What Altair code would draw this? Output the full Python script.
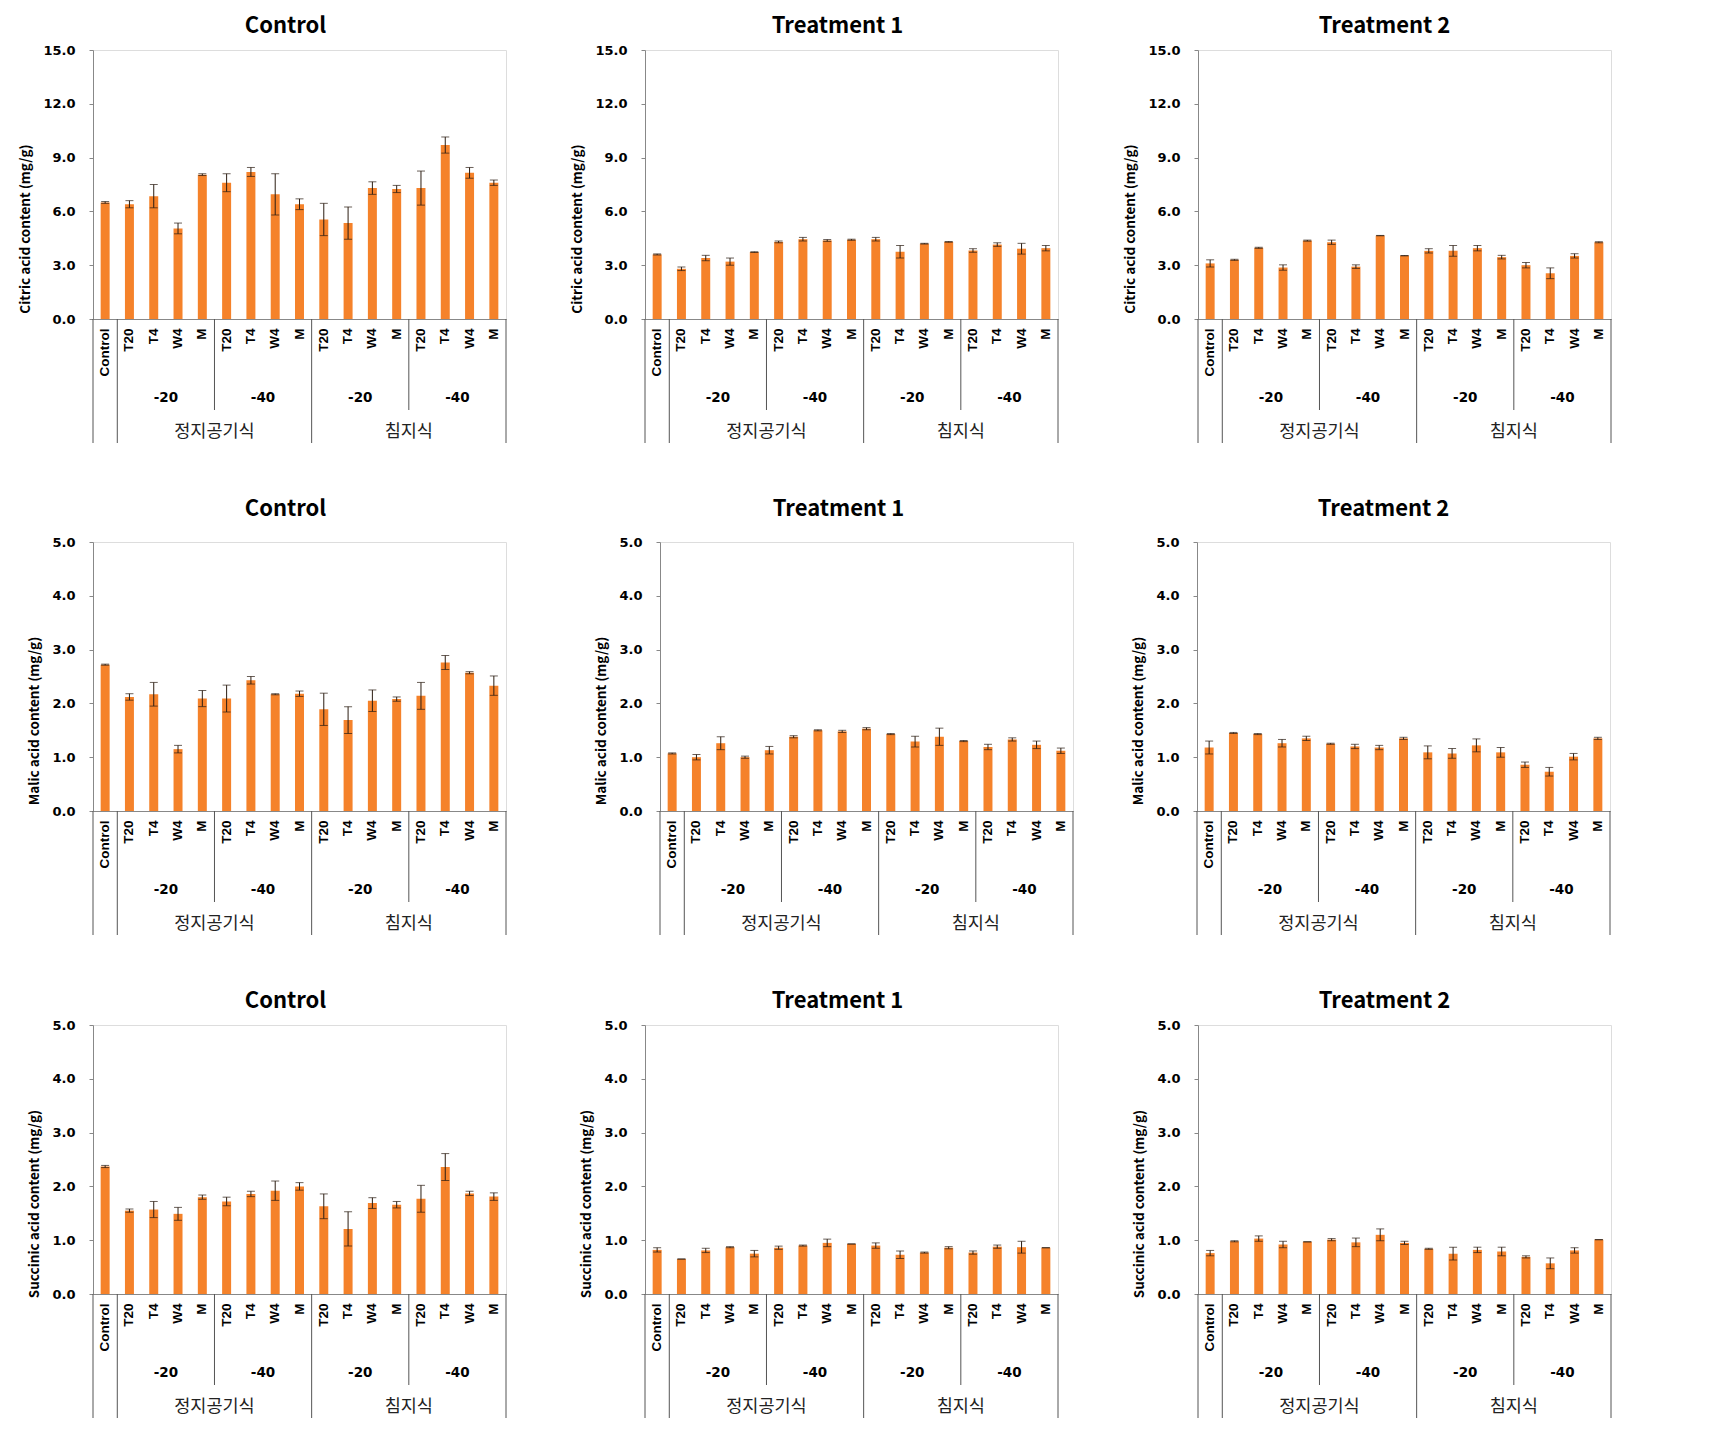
import json
import altair as alt
import pandas as pd

# ---------------- data ----------------
categories = ["Control", "T20", "T4", "W4", "M", "T20", "T4", "W4", "M",
              "T20", "T4", "W4", "M", "T20", "T4", "W4", "M"]
temps = ["-20", "-40", "-20", "-40"]
temp_starts = [1, 5, 9, 13]          # first category index of each temperature group
methods = ["정지공기식", "침지식"]
method_starts = [1, 9]               # first category index of each method group

col_titles = ["Control", "Treatment 1", "Treatment 2"]
y_titles = ["Citric acid content (mg/g)", "Malic acid content (mg/g)", "Succinic acid content (mg/g)"]
y_max = [15.0, 5.0, 5.0]
y_step = [3.0, 1.0, 1.0]

cit_ctrl = [6.5, 6.4, 6.85, 5.05, 8.05, 7.6, 8.2, 6.95, 6.4, 5.55, 5.35, 7.3, 7.25, 7.3, 9.7, 8.15, 7.6]
cit_ctrl_err = [0.05, 0.2, 0.65, 0.3, 0.05, 0.5, 0.25, 1.15, 0.3, 0.9, 0.9, 0.35, 0.2, 0.95, 0.45, 0.3, 0.15]
cit_t1 = [3.6, 2.8, 3.4, 3.2, 3.73, 4.3, 4.45, 4.38, 4.42, 4.45, 3.75, 4.2, 4.3, 3.82, 4.15, 3.92, 3.95]
cit_t1_err = [0.03, 0.1, 0.15, 0.2, 0.02, 0.05, 0.1, 0.05, 0.03, 0.1, 0.35, 0.02, 0.02, 0.1, 0.1, 0.3, 0.15]
cit_t2 = [3.1, 3.3, 3.97, 2.87, 4.37, 4.28, 2.92, 4.65, 3.53, 3.8, 3.8, 3.95, 3.45, 3.0, 2.55, 3.52, 4.28]
cit_t2_err = [0.2, 0.03, 0.03, 0.15, 0.03, 0.12, 0.1, 0.01, 0.01, 0.12, 0.3, 0.15, 0.1, 0.15, 0.3, 0.12, 0.03]

mal_ctrl = [2.72, 2.12, 2.17, 1.15, 2.09, 2.09, 2.43, 2.17, 2.18, 1.89, 1.69, 2.05, 2.08, 2.14, 2.76, 2.57, 2.33]
mal_ctrl_err = [0.01, 0.06, 0.22, 0.07, 0.15, 0.25, 0.07, 0.01, 0.05, 0.3, 0.25, 0.2, 0.04, 0.25, 0.13, 0.02, 0.18]
mal_t1 = [1.07, 1.0, 1.26, 1.0, 1.13, 1.38, 1.5, 1.48, 1.53, 1.43, 1.29, 1.38, 1.3, 1.19, 1.33, 1.23, 1.12]
mal_t1_err = [0.01, 0.05, 0.12, 0.02, 0.07, 0.02, 0.01, 0.02, 0.02, 0.01, 0.1, 0.16, 0.01, 0.05, 0.03, 0.07, 0.05]
mal_t2 = [1.18, 1.45, 1.43, 1.26, 1.35, 1.25, 1.2, 1.18, 1.35, 1.09, 1.07, 1.22, 1.09, 0.86, 0.73, 1.01, 1.35]
mal_t2_err = [0.12, 0.01, 0.01, 0.07, 0.04, 0.01, 0.04, 0.04, 0.02, 0.12, 0.09, 0.12, 0.09, 0.05, 0.08, 0.06, 0.02]

suc_ctrl = [2.37, 1.55, 1.57, 1.49, 1.8, 1.72, 1.86, 1.92, 2.0, 1.63, 1.21, 1.69, 1.66, 1.77, 2.36, 1.87, 1.81]
suc_ctrl_err = [0.02, 0.03, 0.15, 0.12, 0.04, 0.08, 0.05, 0.18, 0.07, 0.23, 0.32, 0.1, 0.06, 0.25, 0.25, 0.04, 0.07]
suc_t1 = [0.82, 0.65, 0.81, 0.87, 0.75, 0.86, 0.9, 0.95, 0.93, 0.9, 0.73, 0.77, 0.86, 0.77, 0.88, 0.87, 0.86]
suc_t1_err = [0.04, 0.0, 0.04, 0.01, 0.06, 0.03, 0.01, 0.07, 0.0, 0.05, 0.07, 0.01, 0.02, 0.03, 0.03, 0.11, 0.0]
suc_t2 = [0.76, 0.98, 1.03, 0.92, 0.97, 1.01, 0.96, 1.1, 0.95, 0.84, 0.75, 0.82, 0.79, 0.69, 0.57, 0.81, 1.01]
suc_t2_err = [0.05, 0.01, 0.05, 0.06, 0.0, 0.02, 0.08, 0.11, 0.03, 0.01, 0.12, 0.05, 0.08, 0.02, 0.1, 0.05, 0.0]

values = [[cit_ctrl, cit_t1, cit_t2], [mal_ctrl, mal_t1, mal_t2], [suc_ctrl, suc_t1, suc_t2]]
errors = [[cit_ctrl_err, cit_t1_err, cit_t2_err], [mal_ctrl_err, mal_t1_err, mal_t2_err],
          [suc_ctrl_err, suc_t1_err, suc_t2_err]]

# ---------------- style ----------------
ORANGE = "#F5822A"
ERR = "#2b1d12"
FRAME = "#888888"
SEP = "#555555"
W, H = 413, 269
N = len(categories)


def make_panel(vals, errs, title, ytitle, ymax, step, title_offset, title_dx):
    df = pd.DataFrame({"idx": list(range(N)), "v": vals, "e": errs})
    df["lo"] = df["v"] - df["e"]
    df["hi"] = df["v"] + df["e"]

    xscale = alt.Scale(domain=list(range(N)), paddingInner=0, paddingOuter=0)
    xaxis = alt.Axis(title=None, labelExpr=f"{json.dumps(categories)}[datum.value]",
                     labelAngle=270, labelFont="Liberation Sans", labelFontWeight="bold",
                     labelFontSize=13.5, labelPadding=9, ticks=False, domainColor=FRAME,
                     labelColor="#000000")
    x = alt.X("idx:O", scale=xscale, axis=xaxis)
    xl = alt.X("idx:O", scale=xscale, axis=xaxis, bandPosition=0)
    xr = alt.X("idx:O", scale=xscale, axis=xaxis, bandPosition=1)

    nt = int(round(ymax / step))
    tick_vals = [round(i * step, 1) for i in range(nt + 1)]
    yscale = alt.Scale(domain=[0, ymax], nice=False, zero=True)
    yaxis = alt.Axis(title=ytitle, values=tick_vals, format=".1f", grid=False, tickSize=4,
                     tickColor=FRAME, domainColor=FRAME, labelFont="DejaVu Sans",
                     labelFontWeight="bold", labelFontSize=13, labelPadding=14,
                     labelColor="#000000", titleFont="Noto Sans CJK KR", titleFontWeight="bold",
                     titleFontSize=13.5, titlePadding=10, titleColor="#000000",
                     titleY=H / 2 + 44)

    bars = alt.Chart(df).mark_bar(color=ORANGE, width={"band": 0.37}).encode(
        x=x, y=alt.Y("v:Q", scale=yscale, axis=yaxis, title=ytitle))
    err = alt.Chart(df).mark_rule(color=ERR, strokeWidth=1).encode(
        x=x, y=alt.Y("lo:Q", scale=yscale, axis=yaxis, title=ytitle), y2="hi:Q")
    cap_hi = alt.Chart(df).mark_tick(color=ERR, thickness=1, size=8).encode(
        x=x, y=alt.Y("hi:Q", scale=yscale, axis=yaxis, title=ytitle))
    cap_lo = alt.Chart(df).mark_tick(color=ERR, thickness=1, size=8).encode(
        x=x, y=alt.Y("lo:Q", scale=yscale, axis=yaxis, title=ytitle))

    main_sep = alt.Chart(pd.DataFrame({"idx": [0] + method_starts})).mark_rule(
        color=SEP, strokeWidth=1).encode(x=xl, y=alt.value(H), y2=alt.value(H + 124))
    right_sep = alt.Chart(pd.DataFrame({"idx": [N - 1]})).mark_rule(
        color=SEP, strokeWidth=1).encode(x=xr, y=alt.value(H), y2=alt.value(H + 124))
    sub_sep = alt.Chart(pd.DataFrame({"idx": temp_starts[1::2]})).mark_rule(
        color=SEP, strokeWidth=1).encode(x=xl, y=alt.value(H), y2=alt.value(H + 91))

    temp_df = pd.DataFrame({"idx": [s + 2 for s in temp_starts], "t": temps})
    temp_text = alt.Chart(temp_df).mark_text(
        font="DejaVu Sans", fontWeight="bold", fontSize=13.5, baseline="middle",
        color="#000000").encode(x=xl, y=alt.value(H + 79), text="t:N")
    meth_df = pd.DataFrame({"idx": [s + 4 for s in method_starts], "t": methods})
    meth_text = alt.Chart(meth_df).mark_text(
        font="Noto Sans CJK KR", fontSize=17.5, baseline="middle",
        color="#222222").encode(x=xl, y=alt.value(H + 113), text="t:N")

    return alt.layer(bars, err, cap_hi, cap_lo, main_sep, right_sep, sub_sep,
                     temp_text, meth_text).properties(
        width=W, height=H,
        title=alt.TitleParams(text=title, font="Noto Sans CJK KR", fontSize=22,
                              fontWeight="bold", color="#000000", anchor="middle",
                              frame="group", offset=title_offset, dx=title_dx))


row_offsets = [6, 15, 6]
row_spacing = [(139, 140), (154, 124), (139, 140)]
title_dx = [[-14, -14, -20], [-14, -28, -20], [-14, -14, -20]]

rows = []
for r in range(3):
    panels = [make_panel(values[r][c], errors[r][c], col_titles[c], y_titles[r], y_max[r],
                         y_step[r], row_offsets[r], title_dx[r][c]) for c in range(3)]
    s1, s2 = row_spacing[r]
    rows.append(alt.hconcat(panels[0],
                            alt.hconcat(panels[1], panels[2], spacing=s2, bounds="flush"),
                            spacing=s1, bounds="flush"))

# nested flush concats report no height of their own, so the gap includes a plot height
gap12 = 223 + H
gap23 = 214 + H
chart = alt.vconcat(rows[0], alt.vconcat(rows[1], rows[2], spacing=gap23, bounds="flush"),
                    spacing=gap12, bounds="flush").properties(
    padding={"left": 10, "top": 6, "right": 5, "bottom": 5}
).configure_view(stroke=FRAME, strokeWidth=1).configure(background="white")

chart.save("out.html", embed_options={"renderer": "svg", "actions": False})
